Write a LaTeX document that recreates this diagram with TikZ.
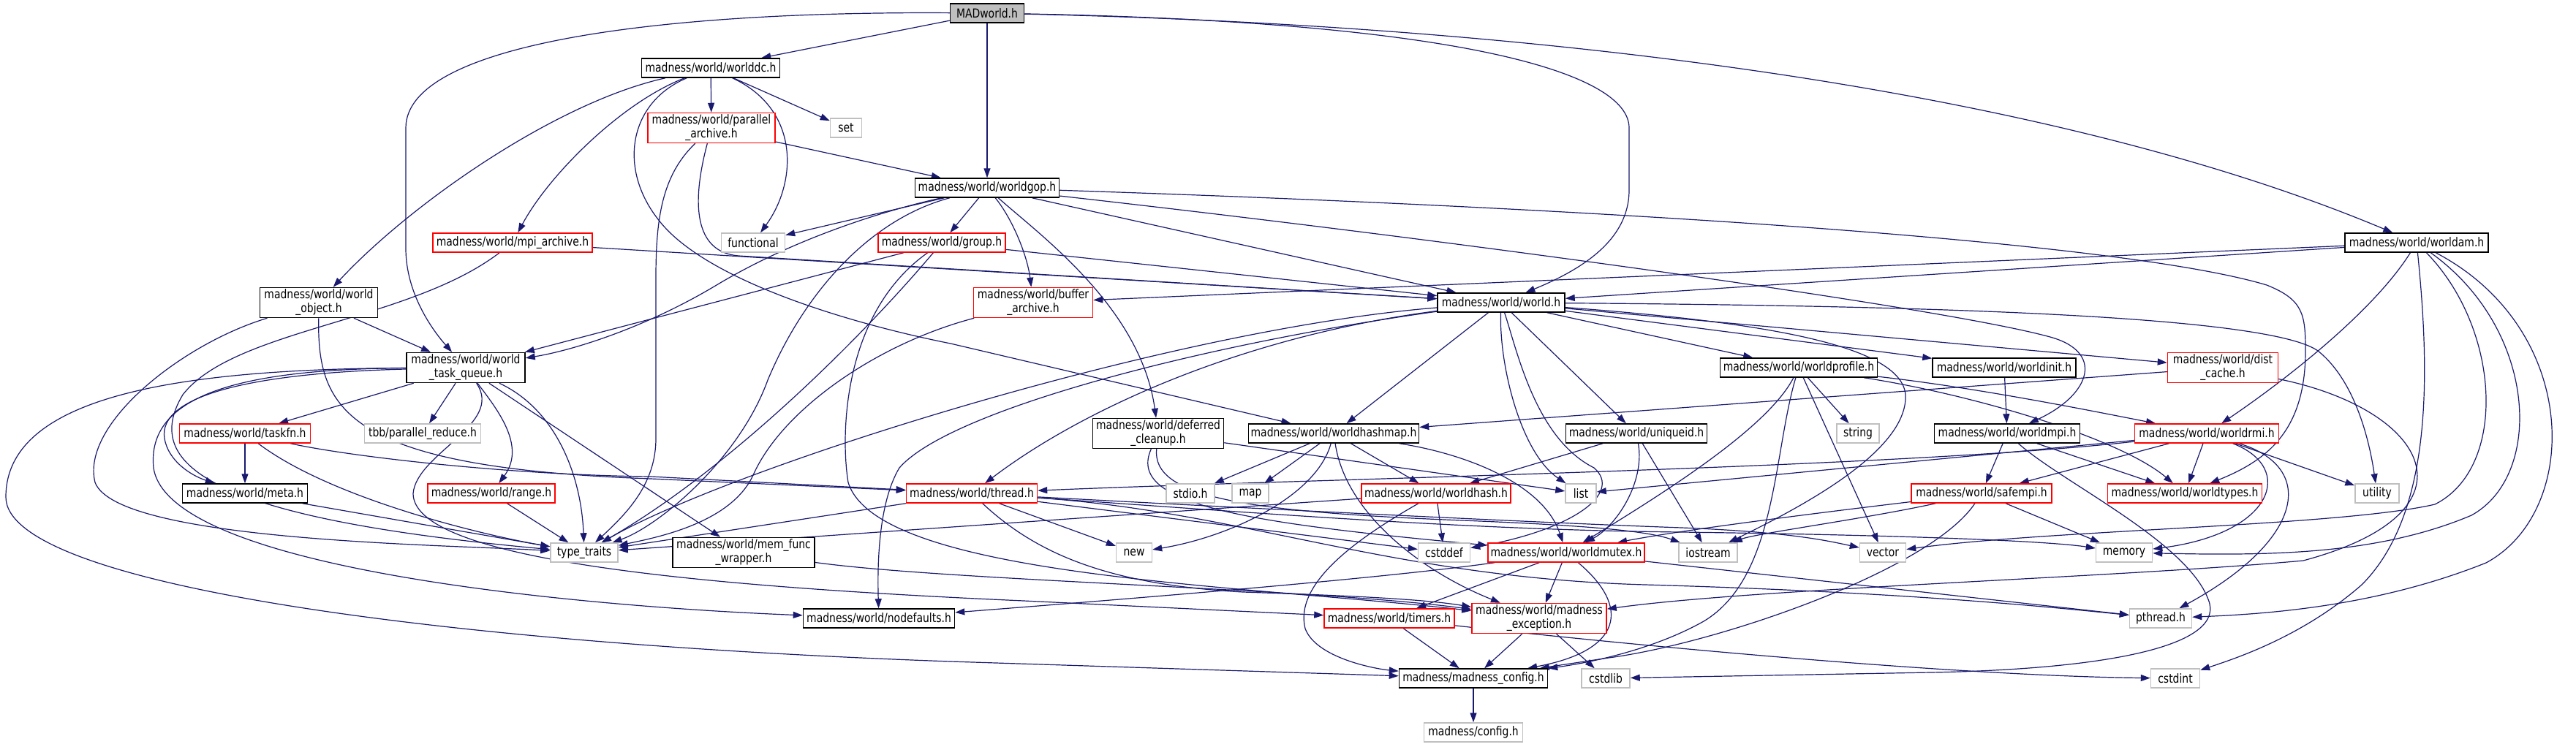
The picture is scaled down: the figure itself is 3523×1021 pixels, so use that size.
\documentclass[tikz,border=0pt]{standalone}
\usepackage{fontspec}
\setmainfont{DejaVu Sans}[FakeStretch=0.82]
\usetikzlibrary{arrows.meta,backgrounds}
\definecolor{edgec}{RGB}{25,25,112}
\definecolor{rbord}{RGB}{255,0,0}
\definecolor{gbord}{RGB}{191,191,191}
\definecolor{mfill}{RGB}{191,191,191}
\begin{document}
\begin{tikzpicture}[x=1pt,y=-1pt,
  nb/.style={draw=black,line width=1.5pt,fill=white,inner sep=0pt,align=center,
    font=\fontsize{17}{19}\selectfont,minimum height=26pt},
  rb/.style={nb,draw=rbord},
  gb/.style={nb,draw=gbord},
  two/.style={minimum height=41pt},
  e/.style={draw=edgec,line width=1.2pt,-{Triangle[length=13pt,width=9pt]}}]
\useasboundingbox (0,0) rectangle (3523,1021);
% nodes
\node[nb,fill=mfill,minimum width=101pt] (MAD) at (1350,18) {MADworld.h};
\node[nb,minimum width=189pt] (dc) at (972,93) {madness/world/worlddc.h};
\node[rb,two,minimum width=174pt] (par) at (973,175) {madness/world/parallel\\\_archive.h};
\node[gb,minimum width=43pt] (set) at (1157,175) {set};
\node[nb,minimum width=197pt] (gop) at (1350,257) {madness/world/worldgop.h};
\node[gb,minimum width=87pt] (func) at (1030,332) {functional};
\node[rb,minimum width=174pt] (grp) at (1288,332) {madness/world/group.h};
\node[rb,minimum width=218pt] (mpia) at (701,332) {madness/world/mpi\_archive.h};
\node[nb,minimum width=196pt] (am) at (3305,332) {madness/world/worldam.h};
\node[nb,two,minimum width=161pt] (obj) at (436,414) {madness/world/world\\\_object.h};
\node[rb,two,minimum width=163pt] (buf) at (1413,414) {madness/world/buffer\\\_archive.h};
\node[nb,minimum width=174pt] (world) at (2053,414) {madness/world/world.h};
\node[nb,two,minimum width=162pt] (tq) at (637,503) {madness/world/world\\\_task\_queue.h};
\node[nb,minimum width=215pt] (prof) at (2460,503) {madness/world/worldprofile.h};
\node[nb,minimum width=196pt] (init) at (2741,503) {madness/world/worldinit.h};
\node[rb,two,minimum width=151pt] (dist) at (3040,503) {madness/world/dist\\\_cache.h};
\node[rb,minimum width=179pt] (taskfn) at (335,593) {madness/world/taskfn.h};
\node[gb,minimum width=159pt] (tbb) at (578,593) {tbb/parallel\_reduce.h};
\node[nb,two,minimum width=179pt] (dcl) at (1584,593) {madness/world/deferred\\\_cleanup.h};
\node[nb,minimum width=233pt] (hmap) at (1824,593) {madness/world/worldhashmap.h};
\node[nb,minimum width=193pt] (uid) at (2238,593) {madness/world/uniqueid.h};
\node[gb,minimum width=58pt] (string) at (2541,593) {string};
\node[nb,minimum width=199pt] (mpi) at (2745,593) {madness/world/worldmpi.h};
\node[rb,minimum width=197pt] (rmi) at (3018,593) {madness/world/worldrmi.h};
\node[nb,minimum width=171pt] (meta) at (335,675) {madness/world/meta.h};
\node[rb,minimum width=174pt] (range) at (672,675) {madness/world/range.h};
\node[rb,minimum width=179pt] (thread) at (1329,675) {madness/world/thread.h};
\node[gb,minimum width=66pt] (stdio) at (1628,675) {stdio.h};
\node[gb,minimum width=50pt] (map) at (1710,675) {map};
\node[rb,minimum width=204pt] (whash) at (1964,675) {madness/world/worldhash.h};
\node[gb,minimum width=42pt] (list) at (2162,675) {list};
\node[rb,minimum width=192pt] (safempi) at (2710,675) {madness/world/safempi.h};
\node[rb,minimum width=211pt] (wtypes) at (2988,675) {madness/world/worldtypes.h};
\node[gb,minimum width=60pt] (utility) at (3251,675) {utility};
\node[gb,minimum width=92pt] (tt) at (799,756) {type\_traits};
\node[nb,two,minimum width=194pt] (mfw) at (1017,756) {madness/world/mem\_func\\\_wrapper.h};
\node[gb,minimum width=49pt] (new) at (1551,756) {new};
\node[gb,minimum width=71pt] (cstddef) at (1975,756) {cstddef};
\node[rb,minimum width=214pt] (mutex) at (2142,756) {madness/world/worldmutex.h};
\node[gb,minimum width=80pt] (iostream) at (2336,756) {iostream};
\node[gb,minimum width=63pt] (vector) at (2575,756) {vector};
\node[gb,minimum width=77pt] (memory) at (2905,756) {memory};
\node[nb,minimum width=207pt] (nodef) at (1202,846) {madness/world/nodefaults.h};
\node[rb,minimum width=178pt] (timers) at (1900,846) {madness/world/timers.h};
\node[rb,two,minimum width=184pt] (mexc) at (2105,846) {madness/world/madness\\\_exception.h};
\node[gb,minimum width=85pt] (pthread) at (2955,846) {pthread.h};
\node[nb,minimum width=203pt] (mcfg) at (2015,928) {madness/madness\_config.h};
\node[gb,minimum width=66pt] (cstdlib) at (2196,928) {cstdlib};
\node[gb,minimum width=67pt] (cstdint) at (2975,928) {cstdint};
\node[gb,minimum width=135pt] (config) at (2015,1002) {madness/config.h};
\begin{pgfonlayer}{background}
\fill[white] (0,0) rectangle (3523,1021);
% MADworld
\draw[e] (MAD) -- (dc);
\draw[e] (MAD) -- (gop);
\draw[e] (MAD) .. controls (2000,30) and (2228,100) .. (2228,175) -- (2228,260) .. controls (2228,330) and (2160,370) .. (world);
\draw[e] (MAD) .. controls (2100,35) and (2800,120) .. (am);
\draw[e] (MAD) .. controls (900,15) and (555,60) .. (555,175) -- (555,340) .. controls (555,400) and (590,450) .. (tq);
% worlddc
\draw[e] (dc) -- (par);
\draw[e] (dc) -- (set);
\draw[e] (dc) .. controls (1095,150) and (1090,250) .. (func);
\draw[e] (dc) .. controls (850,140) and (750,240) .. (mpia);
\draw[e] (dc) .. controls (760,140) and (560,280) .. (obj);
\draw[e] (dc) .. controls (860,140) and (845,230) .. (900,300) .. controls (960,380) and (1150,440) .. (1300,470) -- (hmap);
% parallel archive
\draw[e] (par) -- (gop);
\draw[e] (par) .. controls (945,280) and (950,345) .. (1010,350) -- (world);
\draw[e] (par) .. controls (905,240) and (897,300) .. (897,380) -- (897,600) .. controls (897,660) and (860,700) .. (tt);
% mpi archive
\draw[e] (mpia) -- (world);
\draw[e] (mpia) .. controls (560,440) and (320,450) .. (250,540) .. controls (190,640) and (300,710) .. (tt);
% world object
\draw[e] (obj) -- (tq);
\draw[e] (obj) .. controls (250,470) and (110,580) .. (130,660) .. controls (160,740) and (600,745) .. (tt);
\draw[e] (obj) .. controls (434,560) and (470,640) .. (890,655) -- (thread);
% task queue
\draw[e] (tq) -- (taskfn);
\draw[e] (tq) -- (tbb);
\draw[e] (tq) .. controls (350,510) and (215,540) .. (225,600) .. controls (230,630) and (260,650) .. (meta);
\draw[e] (tq) .. controls (680,560) and (720,610) .. (range);
\draw[e] (tq) .. controls (760,560) and (795,650) .. (tt);
\draw[e] (tq) -- (mfw);
\draw[e] (tq) .. controls (330,505) and (200,540) .. (210,640) .. controls (230,780) and (800,830) .. (nodef);
\draw[e] (tq) .. controls (250,505) and (8,540) .. (8,680) .. controls (8,800) and (600,880) .. (1300,905) -- (mcfg);
\draw[e] (tq) .. controls (690,580) and (570,620) .. (565,675) .. controls (565,760) and (900,800) .. (1400,822) -- (timers);
% taskfn, meta, range
\draw[e] (taskfn) -- (meta);
\draw[e] (taskfn) .. controls (450,680) and (650,730) .. (tt);
\draw[e] (taskfn) .. controls (480,625) and (700,650) .. (890,652) -- (thread);
\draw[e] (meta) -- (tt);
\draw[e] (range) -- (tt);
% group
\draw[e] (grp) -- (tq);
\draw[e] (grp) -- (world);
\draw[e] (grp) .. controls (1180,460) and (1000,640) .. (tt);
\draw[e] (grp) .. controls (1150,430) and (1150,600) .. (1160,660) .. controls (1200,790) and (1700,800) .. (mexc);
% buffer archive
\draw[e] (buf) .. controls (1200,470) and (1070,560) .. (1030,650) .. controls (1000,715) and (900,735) .. (tt);
% worldgop
\draw[e] (gop) -- (func);
\draw[e] (gop) -- (grp);
\draw[e] (gop) .. controls (1385,300) and (1405,350) .. (buf);
\draw[e] (gop) -- (world);
\draw[e] (gop) .. controls (1200,290) and (1080,330) .. (980,390) .. controls (880,450) and (780,480) .. (tq);
\draw[e] (gop) .. controls (1190,300) and (1100,400) .. (1050,520) .. controls (1010,630) and (900,720) .. (tt);
\draw[e] (gop) .. controls (1420,320) and (1560,420) .. (dcl);
\draw[e] (gop) .. controls (2200,285) and (2900,330) .. (3100,390) .. controls (3150,410) and (3153,430) .. (3153,480) .. controls (3153,590) and (3100,630) .. (wtypes);
\draw[e] (gop) .. controls (2000,330) and (2650,420) .. (2800,460) .. controls (2880,480) and (2860,540) .. (mpi);
% world
\draw[e] (world) -- (hmap);
\draw[e] (world) .. controls (2050,500) and (2080,620) .. (list);
\draw[e] (world) .. controls (2075,480) and (2100,600) .. (2180,640) .. controls (2220,675) and (2150,725) .. (cstddef);
\draw[e] (world) -- (uid);
\draw[e] (world) -- (prof);
\draw[e] (world) -- (init);
\draw[e] (world) -- (dist);
\draw[e] (world) .. controls (2600,418) and (3100,430) .. (3170,480) .. controls (3220,520) and (3240,600) .. (utility);
\draw[e] (world) .. controls (2400,440) and (2600,470) .. (2606,540) .. controls (2610,620) and (2450,700) .. (iostream);
\draw[e] (world) .. controls (1700,460) and (1480,560) .. (thread);
\draw[e] (world) .. controls (1600,450) and (1000,640) .. (tt);
\draw[e] (world) .. controls (1650,470) and (1300,560) .. (1230,640) .. controls (1200,690) and (1200,780) .. (nodef);
% worldhashmap
\draw[e] (hmap) -- (stdio);
\draw[e] (hmap) -- (map);
\draw[e] (hmap) .. controls (1800,680) and (1680,735) .. (new);
\draw[e] (hmap) -- (whash);
\draw[e] (hmap) .. controls (2000,620) and (2110,660) .. (mutex);
\draw[e] (hmap) .. controls (1840,700) and (1940,780) .. (mexc);
% deferred cleanup
\draw[e] (dcl) -- (list);
\draw[e] (dcl) .. controls (1540,690) and (1700,715) .. (mutex);
\draw[e] (dcl) .. controls (1575,680) and (1700,700) .. (2000,712) .. controls (2150,718) and (2250,725) .. (iostream);
% thread
\draw[e] (thread) -- (new);
\draw[e] (thread) -- (cstddef);
\draw[e] (thread) .. controls (1420,760) and (1520,800) .. (1700,810) .. controls (1850,815) and (1950,820) .. (mexc);
\draw[e] (thread) .. controls (1700,700) and (1900,790) .. (2250,800) .. controls (2600,810) and (2800,830) .. (pthread);
\draw[e] (thread) .. controls (1700,700) and (2000,725) .. (2300,728) .. controls (2600,732) and (2800,740) .. (memory);
\draw[e] (thread) .. controls (1700,695) and (2100,715) .. (2300,722) .. controls (2450,728) and (2500,740) .. (vector);
\draw[e] (thread) -- (tt);
% uniqueid
\draw[e] (uid) -- (whash);
\draw[e] (uid) .. controls (2250,660) and (2210,720) .. (mutex);
\draw[e] (uid) -- (iostream);
% worldprofile
\draw[e] (prof) -- (string);
\draw[e] (prof) -- (vector);
\draw[e] (prof) .. controls (2420,580) and (2300,660) .. (mutex);
\draw[e] (prof) .. controls (2425,620) and (2430,790) .. (2330,850) .. controls (2250,895) and (2150,910) .. (mcfg);
\draw[e] (prof) .. controls (2700,540) and (2900,600) .. (wtypes);
\draw[e] (prof) .. controls (2700,530) and (2850,560) .. (rmi);
% worldinit
\draw[e] (init) -- (mpi);
% dist cache
\draw[e] (dist) -- (hmap);
\draw[e] (dist) .. controls (3320,560) and (3400,700) .. (3150,767) .. controls (2900,790) and (2400,805) .. (mexc);
% worldmpi
\draw[e] (mpi) -- (safempi);
\draw[e] (mpi) -- (wtypes);
\draw[e] (mpi) .. controls (2820,660) and (2990,740) .. (3020,820) .. controls (3045,880) and (2900,915) .. (2640,920) -- (cstdlib);
% safempi
\draw[e] (safempi) .. controls (2550,710) and (2400,730) .. (iostream);
\draw[e] (safempi) .. controls (2500,700) and (2300,725) .. (mutex);
\draw[e] (safempi) -- (memory);
\draw[e] (safempi) .. controls (2640,780) and (2350,880) .. (2200,900) -- (mcfg);
% worldrmi
\draw[e] (rmi) -- (safempi);
\draw[e] (rmi) -- (wtypes);
\draw[e] (rmi) -- (utility);
\draw[e] (rmi) .. controls (3140,640) and (3110,730) .. (memory);
\draw[e] (rmi) .. controls (3170,640) and (3150,740) .. (pthread);
\draw[e] (rmi) -- (list);
\draw[e] (rmi) .. controls (2600,640) and (1800,655) .. (thread);
% worldam
\draw[e] (am) -- (world);
\draw[e] (am) -- (buf);
\draw[e] (am) .. controls (3250,420) and (3140,510) .. (rmi);
\draw[e] (am) .. controls (3322,500) and (3330,700) .. (3230,800) .. controls (3150,870) and (3060,900) .. (cstdint);
\draw[e] (am) .. controls (3420,450) and (3430,640) .. (3330,690) .. controls (3200,720) and (2800,725) .. (vector);
\draw[e] (am) .. controls (3470,450) and (3480,650) .. (3380,705) .. controls (3250,760) and (3100,760) .. (memory);
\draw[e] (am) .. controls (3530,450) and (3530,700) .. (3400,770) .. controls (3250,830) and (3100,840) .. (pthread);
% worldhash
\draw[e] (whash) -- (cstddef);
\draw[e] (whash) .. controls (1850,740) and (1770,800) .. (1785,860) .. controls (1800,900) and (1880,915) .. (mcfg);
\draw[e] (whash) -- (tt);
% worldmutex
\draw[e] (mutex) .. controls (1900,790) and (1600,815) .. (nodef);
\draw[e] (mutex) -- (timers);
\draw[e] (mutex) -- (mexc);
\draw[e] (mutex) .. controls (2230,830) and (2220,890) .. (mcfg);
\draw[e] (mutex) -- (pthread);
% timers, exception, config
\draw[e] (timers) -- (mcfg);
\draw[e] (timers) .. controls (2300,890) and (2700,925) .. (cstdint);
\draw[e] (mexc) -- (mcfg);
\draw[e] (mexc) -- (cstdlib);
\draw[e] (mcfg) -- (config);
\draw[e] (mfw) .. controls (1300,795) and (1800,805) .. (mexc);
\end{pgfonlayer}
\end{tikzpicture}
\end{document}
